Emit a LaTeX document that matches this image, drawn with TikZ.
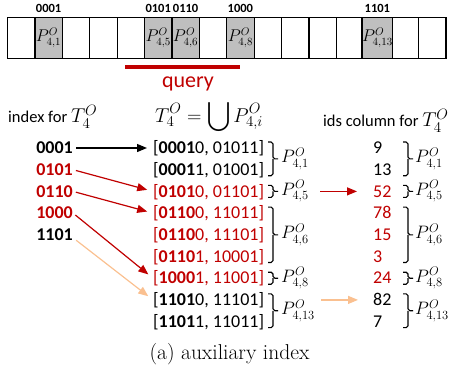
\RequirePackage{fix-cm}
\documentclass[tikz,border=0pt]{standalone}
\usepackage{exscale}
\usepackage{fontspec}
\newfontfamily\carl{Carlito}
\usetikzlibrary{arrows.meta}
\DeclareMathSizes{17}{17}{11}{8}
\DeclareMathSizes{18}{18}{12.5}{9}
\DeclareMathSizes{20}{20}{15}{11}
\definecolor{qred}{RGB}{192,0,0}
\definecolor{qorange}{RGB}{250,192,144}
\definecolor{cellgray}{RGB}{191,191,191}
\newcommand\mybrace[3]{%
  \draw[bracestyle] (#1,#2) -- ({#1+5},#2) -- ({#1+5},{(#2+#3)/2}) -- ({#1+10},{(#2+#3)/2});
  \draw[bracestyle] (#1,#3) -- ({#1+5},#3) -- ({#1+5},{(#2+#3)/2});
}
\newcommand\bigmath[1]{{\fontsize{20}{22}\selectfont$#1$}}
\begin{document}
\begin{tikzpicture}[x=1pt,y=-1pt,
  cell/.style={draw=black,line width=1.2pt,minimum width=27.4pt,minimum height=40.8pt,inner sep=0pt,outer sep=0pt},
  gcell/.style={cell,fill=cellgray,font=\fontsize{17}{19}\selectfont},
  toplab/.style={font=\carl\bfseries\fontsize{12.5}{14}\selectfont,inner sep=0pt},
  plab/.style={font=\fontsize{18}{20}\selectfont,inner sep=0pt,anchor=west},
  rowtxt/.style={font=\carl\fontsize{18}{20}\selectfont,anchor=west,inner sep=0pt,text height=11.4pt,text depth=0pt},
  keytxt/.style={font=\carl\bfseries\fontsize{18}{20}\selectfont,anchor=east,inner sep=0pt,text height=11.4pt,text depth=0pt},
  hdr/.style={font=\carl\fontsize{16.5}{18}\selectfont,anchor=base west,inner sep=0pt},
  bracestyle/.style={line width=1.1pt,rounded corners=1.8pt},
  arr/.style={-{Triangle[length=10pt,width=8pt]},line width=1.2pt},
]
\useasboundingbox (0,0) rectangle (452,377);

% top cells
\foreach \i in {0,2,3,4,7,9,10,11,12,14,15}
  \node[cell] (c\i) at ({7.5+27.4*(\i+0.5)},37.8) {};
\node[gcell] (c1) at ({7.5+27.4*1.5},37.8) {$P^O_{4,1}$};
\node[gcell] (c5) at ({7.5+27.4*5.5},37.8) {$P^O_{4,5}$};
\node[gcell] (c6) at ({7.5+27.4*6.5},37.8) {$P^O_{4,6}$};
\node[gcell] (c8) at ({7.5+27.4*8.5},37.8) {$P^O_{4,8}$};
\node[gcell] (c13) at ({7.5+27.4*13.5},37.8) {$P^O_{4,13}$};

\node[toplab] (t1) at ({7.5+27.4*1.5},8) {0001};
\node[toplab] (t5) at ({7.5+27.4*5.5},8) {0101};
\node[toplab] (t6) at ({7.5+27.4*6.5},8) {0110};
\node[toplab] (t8) at ({7.5+27.4*8.5},8) {1000};
\node[toplab] (t13) at ({7.5+27.4*13.5},8) {1101};

% query bar
\fill[qred] (125,65.2) rectangle (240,69.5);
\node[font=\carl\fontsize{22}{24}\selectfont,text=qred,anchor=base,inner sep=0pt] (q) at (188,87.5) {query};

% headers
\node[hdr] (h1) at (8,122.5) {index for \bigmath{T_4^O}};
\node[anchor=base west,font=\fontsize{20}{22}\selectfont,inner sep=0pt] (h2) at (155,122) {$\displaystyle T_4^O=\bigcup P_{4,i}^O$};
\node[hdr] (h3) at (323,126.5) {ids column for \bigmath{T_4^O}};

% keys
\node[keytxt] (k1) at (73,148) {0001};
\node[keytxt,text=qred] (k2) at (73,169.7) {0101};
\node[keytxt,text=qred] (k3) at (73,191.4) {0110};
\node[keytxt,text=qred] (k4) at (73,213.1) {1000};
\node[keytxt] (k5) at (73,234.8) {1101};

% ranges
\node[rowtxt] (r1) at (153,148) {[\textbf{0001}0, 01011]};
\node[rowtxt] (r2) at (153,169.7) {[\textbf{0001}1, 01001]};
\node[rowtxt,text=qred] (r3) at (153,191.4) {[\textbf{0101}0, 01101]};
\node[rowtxt,text=qred] (r4) at (153,213.1) {[\textbf{0110}0, 11011]};
\node[rowtxt,text=qred] (r5) at (153,234.8) {[\textbf{0110}0, 11101]};
\node[rowtxt,text=qred] (r6) at (153,256.5) {[\textbf{0110}1, 10001]};
\node[rowtxt,text=qred] (r7) at (153,278.2) {[\textbf{1000}1, 11001]};
\node[rowtxt] (r8) at (153,299.9) {[\textbf{1101}0, 11101]};
\node[rowtxt] (r9) at (153,321.6) {[\textbf{1101}1, 11011]};

% ids
\node[rowtxt] (d1) at (373,148) {9};
\node[rowtxt] (d2) at (373,169.7) {13};
\node[rowtxt,text=qred] (d3) at (373,191.4) {52};
\node[rowtxt,text=qred] (d4) at (373,213.1) {78};
\node[rowtxt,text=qred] (d5) at (373,234.8) {15};
\node[rowtxt,text=qred] (d6) at (373,256.5) {3};
\node[rowtxt,text=qred] (d7) at (373,278.2) {24};
\node[rowtxt] (d8) at (373,299.9) {82};
\node[rowtxt] (d9) at (373,321.6) {7};

% braces middle
\mybrace{268}{142}{175.7}
\node[plab] (m1) at (281,158.85) {$P^O_{4,1}$};
\mybrace{268}{185.4}{197.4}
\node[plab] (m5) at (281,191.4) {$P^O_{4,5}$};
\mybrace{268}{207.1}{262.5}
\node[plab] (m6) at (281,234.8) {$P^O_{4,6}$};
\mybrace{268}{272.2}{284.2}
\node[plab] (m8) at (281,278.2) {$P^O_{4,8}$};
\mybrace{268}{293.9}{327.6}
\node[plab] (m13) at (281,310.75) {$P^O_{4,13}$};

% braces ids
\mybrace{403}{142}{175.7}
\node[plab] (n1) at (415,158.85) {$P^O_{4,1}$};
\mybrace{403}{185.4}{197.4}
\node[plab] (n5) at (415,191.4) {$P^O_{4,5}$};
\mybrace{403}{207.1}{262.5}
\node[plab] (n6) at (415,234.8) {$P^O_{4,6}$};
\mybrace{403}{272.2}{284.2}
\node[plab] (n8) at (415,278.2) {$P^O_{4,8}$};
\mybrace{403}{293.9}{327.6}
\node[plab] (n13) at (415,310.75) {$P^O_{4,13}$};

% arrows
\draw[arr,black,shorten <=3pt,shorten >=6pt] (k1.east) -- (r1.west);
\draw[arr,qred,shorten <=3pt,shorten >=6pt] (k2.east) -- (r3.west);
\draw[arr,qred,shorten <=3pt,shorten >=6pt] (k3.east) -- (r4.west);
\draw[arr,qred,shorten <=3pt,shorten >=6pt] (k4.east) -- (r7.west);
\draw[arr,qorange,shorten <=4pt,shorten >=6pt] ([yshift=-3pt]k5.east) -- (r8.west);
\coordinate (s3) at (320,191.4);
\draw[arr,qred,shorten >=16pt] (s3) -- (d3.west);
\coordinate (s8) at (321,299.9);
\draw[arr,qorange,shorten >=15pt] (s8) -- (d8.west);

% caption
\node[font=\fontsize{21.5}{24}\selectfont,anchor=base,inner sep=0pt] (cap) at (229.5,359) {(a) auxiliary index};
\end{tikzpicture}
\end{document}
